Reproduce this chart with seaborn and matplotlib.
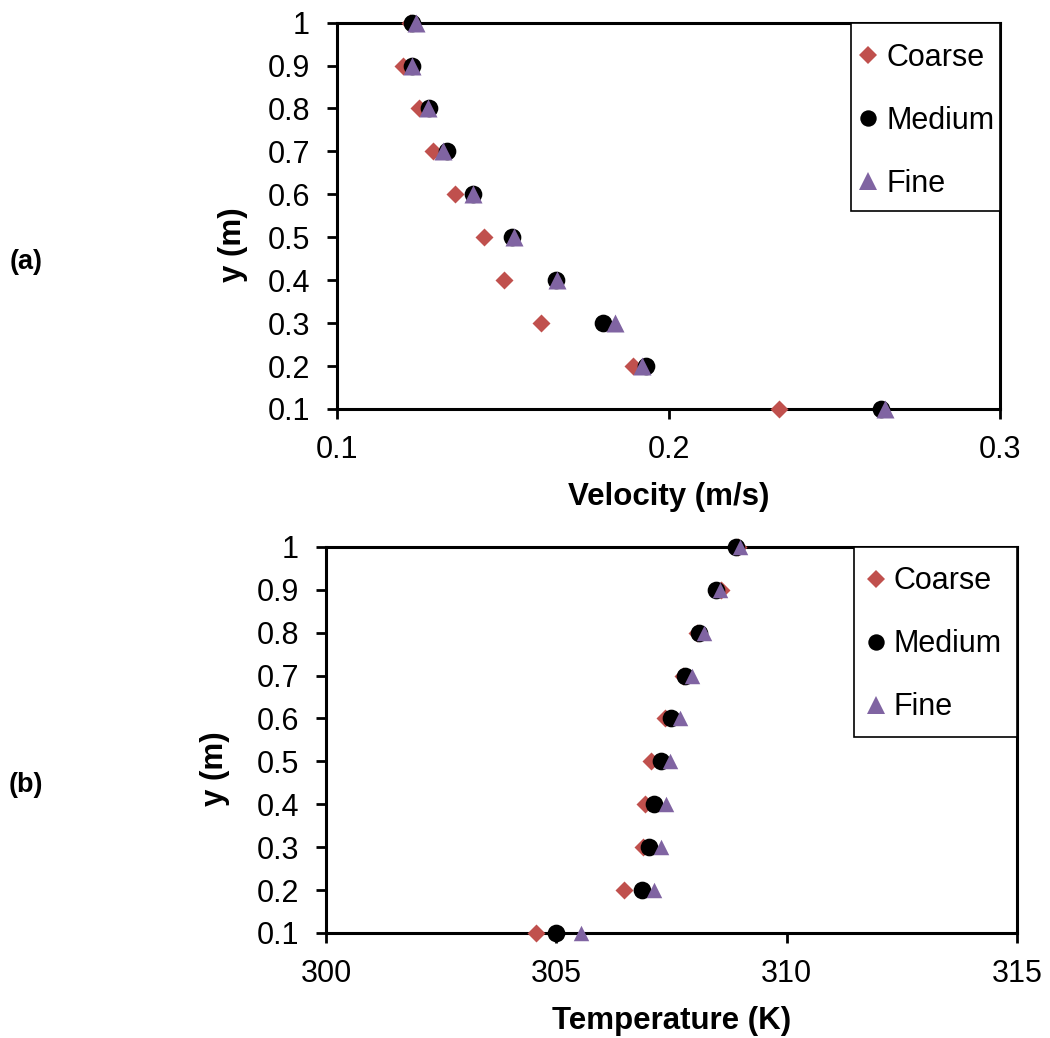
import matplotlib
matplotlib.use("Agg")
import matplotlib.pyplot as plt
import matplotlib.ticker as mticker
from matplotlib.lines import Line2D
from matplotlib.patches import Rectangle
import pandas as pd
import seaborn as sns

# Grid-independence study: profiles along the height for three meshes
heights = [0.1, 0.2, 0.3, 0.4, 0.5, 0.6, 0.7, 0.8, 0.9, 1.0]
meshes = ["Coarse", "Medium", "Fine"]

velocity_coarse = [0.2333, 0.1893, 0.1616, 0.1503, 0.1442, 0.1357, 0.1290, 0.1248, 0.1200, 0.1220]
velocity_medium = [0.2642, 0.1931, 0.1803, 0.1660, 0.1527, 0.1411, 0.1333, 0.1278, 0.1225, 0.1225]
velocity_fine = [0.2654, 0.1920, 0.1840, 0.1665, 0.1533, 0.1409, 0.1320, 0.1273, 0.1225, 0.1237]

temperature_coarse = [304.56, 306.47, 306.89, 306.93, 307.05, 307.36, 307.74, 308.05, 308.57, 308.95]
temperature_medium = [304.99, 306.85, 307.02, 307.12, 307.28, 307.49, 307.79, 308.10, 308.46, 308.90]
temperature_fine = [305.53, 307.13, 307.27, 307.38, 307.47, 307.68, 307.94, 308.20, 308.55, 308.99]

y_ticks = [0.1, 0.2, 0.3, 0.4, 0.5, 0.6, 0.7, 0.8, 0.9, 1.0]
velocity_ticks = [0.1, 0.2, 0.3]
temperature_ticks = [300, 305, 310, 315]

colors = {"Coarse": "#C0504D", "Medium": "#000000", "Fine": "#8064A2"}
markers = {"Coarse": "D", "Medium": "o", "Fine": "^"}
legend_ms = {"Coarse": 9.0, "Medium": 11.8, "Fine": 12.4}

sns.set_style("ticks")
plt.rcParams["font.family"] = ["Liberation Sans", "DejaVu Sans"]
plt.rcParams["text.color"] = "black"
plt.rcParams["axes.labelcolor"] = "black"
plt.rcParams["xtick.color"] = "black"
plt.rcParams["ytick.color"] = "black"

vel_df = pd.DataFrame({
    "y": heights * 3,
    "value": velocity_coarse + velocity_medium + velocity_fine,
    "Mesh": [m for m in meshes for _ in heights],
})
temp_df = pd.DataFrame({
    "y": heights * 3,
    "value": temperature_coarse + temperature_medium + temperature_fine,
    "Mesh": [m for m in meshes for _ in heights],
})

fig = plt.figure(figsize=(10.5, 10.38), dpi=100)
ax_v = fig.add_axes([0.3210, 0.6060, 0.6314, 0.3722])
ax_t = fig.add_axes([0.3105, 0.1012, 0.6581, 0.3719])

FS = 22


def draw_panel(ax, df, sizes, xlim, xticks, xlabel, lab_x, box, anchor, textpad):
    for mesh in meshes:
        sub = df[df["Mesh"] == mesh]
        sns.scatterplot(data=sub, x="value", y="y", marker=markers[mesh],
                        color=colors[mesh], s=sizes[mesh], linewidth=0,
                        legend=False, ax=ax, clip_on=False, zorder=3)
    ax.set_xlim(*xlim)
    ax.set_ylim(0.1, 1.0)
    ax.set_xticks(xticks)
    ax.xaxis.set_major_formatter(mticker.FuncFormatter(lambda v, p: f"{v:g}"))
    ax.set_yticks(y_ticks)
    ax.yaxis.set_major_formatter(mticker.FuncFormatter(lambda v, p: f"{v:g}"))
    for sp in ax.spines.values():
        sp.set_visible(True)
        sp.set_linewidth(2.2)
        sp.set_color("black")
    ax.tick_params(axis="both", direction="out", length=7, width=2,
                   labelsize=FS, colors="black", labelcolor="black")
    ax.tick_params(axis="x", pad=12)
    ax.tick_params(axis="y", pad=12.5)
    ax.set_xlabel(xlabel, fontsize=22.5, fontweight="bold", color="black")
    ax.set_ylabel("y (m)", fontsize=22.5, fontweight="bold", color="black")
    ax.xaxis.set_label_coords(0.5, -0.188)
    ax.yaxis.set_label_coords(lab_x, 0.425)

    # legend frame drawn as its own box, entries placed inside it
    x0, y0 = box
    ax.add_patch(Rectangle((x0, y0), 1.0 - x0, 1.0 - y0, transform=ax.transAxes,
                           facecolor="white", edgecolor="black", linewidth=1.2,
                           zorder=4, clip_on=False))
    handles = [Line2D([], [], linestyle="none", marker=markers[m],
                      color=colors[m], markeredgewidth=0, markersize=legend_ms[m])
               for m in meshes]
    leg = ax.legend(handles, meshes, loc="upper left", bbox_to_anchor=anchor,
                    borderaxespad=0, frameon=False, fontsize=FS,
                    borderpad=0, handlelength=0.6, handletextpad=textpad,
                    labelspacing=1.08)
    for t in leg.get_texts():
        t.set_color("black")
    leg.set_zorder(5)


draw_panel(ax_v, vel_df, {"Coarse": 84, "Medium": 162, "Fine": 168},
           (0.1, 0.3), velocity_ticks, "Velocity (m/s)", -0.134,
           (0.775, 0.5126), (0.787, 0.947), 0.29)
draw_panel(ax_t, temp_df, {"Coarse": 84, "Medium": 162, "Fine": 124},
           (300, 315), temperature_ticks, "Temperature (K)", -0.139,
           (0.764, 0.508), (0.783, 0.9495), 0.25)

fig.text(0.0248, 0.7476, "(a)", fontsize=19.5, fontweight="bold",
         ha="center", va="center", color="black")
fig.text(0.0248, 0.2437, "(b)", fontsize=19.5, fontweight="bold",
         ha="center", va="center", color="black")

fig.savefig("out.png", dpi=100, facecolor="white")
